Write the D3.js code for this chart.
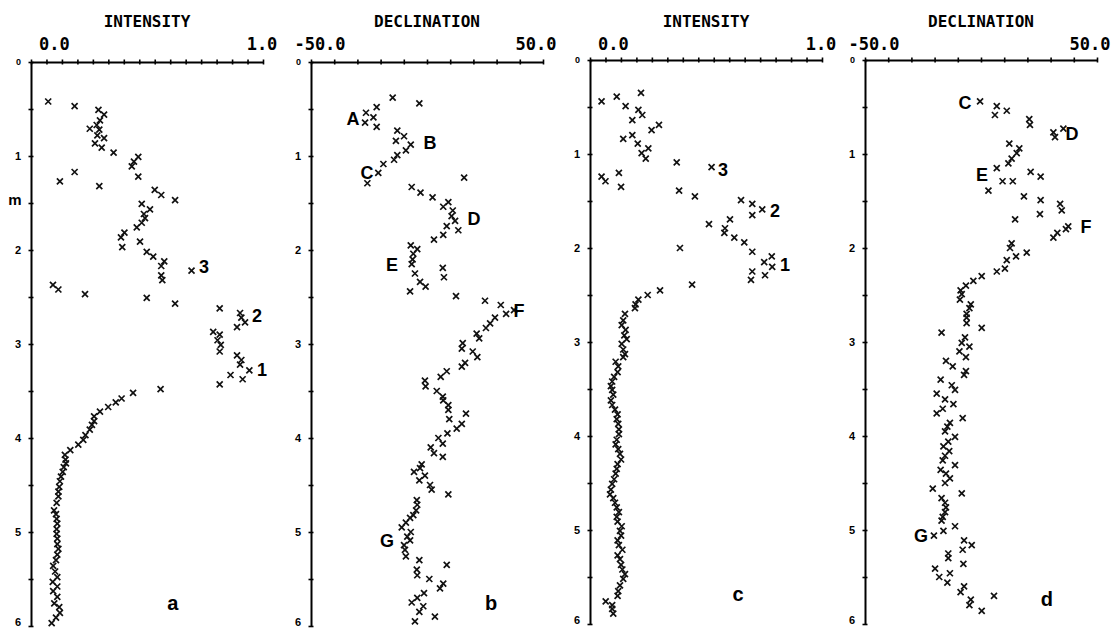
<!DOCTYPE html>
<html><head><meta charset="utf-8">
<script src="https://cdn.jsdelivr.net/npm/d3@7"></script>
<style>body{margin:0;background:#fff}</style>
</head><body>
<svg id="chart" width="1111" height="629"></svg>
<script>
// ---------- DATA ----------
const depthTickValues = [0,0.5,1,1.5,2,2.5,3,3.5,4,4.5,5,5.5,6];
const depthUnit = "m";
const intensityTickLabels = [{v:0,t:"0.0"},{v:1,t:"1.0"}];
const declinationTickLabels = [{v:-50,t:"-50.0"},{v:50,t:"50.0"}];
const intensityTickValues = [-1/14,0,1/14,2/14,3/14,4/14,5/14,6/14,7/14,8/14,9/14,10/14,11/14,12/14,13/14,1];
const declinationTickValues = [-50,-40,-30,-20,-10,0,10,20,30,40,50];

// [depth (m), intensity]
const seriesA = [[0.42,0.008],[0.47,0.13],[0.51,0.24],[0.56,0.266],[0.62,0.247],[0.67,0.232],[0.71,0.20],[0.72,0.244],[0.78,0.235],[0.81,0.266],[0.865,0.224],[0.91,0.255],[0.965,0.31],[1.01,0.424],[1.06,0.404],[1.11,0.394],[1.22,0.424],[1.17,0.13],[1.27,0.062],[1.32,0.244],[1.36,0.50],[1.415,0.53],[1.47,0.594],[1.51,0.44],[1.567,0.478],[1.617,0.45],[1.66,0.455],[1.71,0.44],[1.76,0.417],[1.815,0.36],[1.865,0.344],[1.97,0.35],[1.91,0.432],[2.02,0.463],[2.07,0.493],[2.12,0.544],[2.17,0.53],[2.27,0.53],[2.32,0.535],[2.22,0.67],[2.37,0.03],[2.42,0.055],[2.47,0.178],[2.51,0.463],[2.57,0.594],[2.62,0.80],[2.67,0.894],
[2.72,0.90],[2.77,0.917],[2.82,0.88],[2.87,0.77],[2.90,0.80],[2.96,0.79],[3.01,0.805],[3.08,0.80],[3.12,0.88],[3.17,0.90],[3.22,0.894],[3.28,0.937],[3.33,0.85],[3.375,0.906],[3.43,0.80],[3.48,0.527],[3.52,0.40],[3.58,0.347],[3.62,0.32],[3.67,0.285],[3.72,0.247],[3.77,0.22],[3.82,0.22],[3.86,0.21],[3.91,0.20],[3.97,0.18],[4.02,0.17],[4.07,0.147],[4.13,0.11],[4.18,0.085],[4.23,0.088],[4.27,0.09],[4.31,0.08],[4.36,0.075],[4.41,0.067],[4.46,0.062],[4.52,0.059],[4.57,0.055],[4.62,0.055],[4.69,0.047],[4.77,0.035],[4.81,0.044],[4.86,0.047],[4.91,0.05],[4.97,0.047],[5.02,0.047],[5.07,0.05],[5.13,0.05],[5.18,0.055],[5.24,0.05],[5.30,0.044],[5.36,0.031],[5.42,0.04],[5.48,0.05],[5.53,0.029],[5.58,0.05],[5.63,0.031],[5.69,0.05],[5.76,0.036],[5.80,0.059],[5.86,0.062],[5.91,0.044],[5.97,0.024]];

// [depth (m), declination]
const seriesB = [[0.38,-14.8],[0.44,-3.3],[0.54,-26.3],[0.48,-21.7],[0.59,-23.1],[0.645,-26.7],[0.69,-21.7],[0.73,-12.8],[0.79,-9.9],[0.84,-13.4],[0.88,-7.0],[0.94,-9.1],[0.99,-12.8],[1.04,-14.2],[1.085,-18.8],[1.18,-21.0],[1.29,-25.7],[1.23,16.0],[1.33,-6.6],[1.39,-2.8],[1.44,2.4],[1.49,9.2],[1.54,7.0],[1.58,11.1],[1.64,10.6],[1.69,12.1],[1.745,8.5],[1.79,13.5],[1.84,7.0],[1.89,3.0],[1.95,-7.0],[1.99,-4.2],[2.04,-5.9],[2.10,-6.2],[2.15,-6.6],[2.25,-5.2],[2.19,6.8],[2.29,7.3],[2.34,-3.0],[2.39,-0.6],[2.44,-7.3],[2.49,12.5],[2.54,25.0],[2.585,31.8],[2.64,37.5],[2.68,34.1],[2.72,29.3],
[2.78,27.2],[2.83,25.4],[2.89,21.4],[2.94,22.5],[2.99,15.4],[3.05,15.0],[3.08,19.7],[3.14,21.7],[3.20,16.4],[3.24,15.0],[3.29,8.5],[3.35,5.9],[3.39,-0.9],[3.45,-0.6],[3.50,4.2],[3.56,6.8],[3.60,7.0],[3.65,9.2],[3.70,9.2],[3.74,16.8],[3.80,9.6],[3.85,15.0],[3.90,12.8],[3.95,8.8],[4.00,4.9],[4.06,6.8],[4.10,1.6],[4.16,3.0],[4.20,6.8],[4.28,-2.3],[4.32,-3.0],[4.36,-5.6],[4.40,-0.9],[4.45,-3.3],[4.50,1.3],[4.55,2.0],[4.60,9.2],[4.66,-4.4],[4.71,-4.2],[4.77,-4.7],[4.82,-5.9],[4.85,-7.3],[4.90,-9.1],[4.95,-10.9],[5.00,-7.0],[5.05,-8.5],[5.09,-7.3],[5.14,-9.9],[5.19,-9.5],[5.26,-9.1],[5.30,-3.3],[5.35,8.5],[5.40,-4.4],[5.46,-4.2],[5.50,1.0],[5.55,7.0],[5.60,5.6],[5.65,-1.3],[5.70,-4.2],[5.75,-6.6],[5.79,-1.6],[5.85,-3.3],[5.90,3.4],[5.95,-5.2]];

// [depth (m), intensity]
const seriesC = [[0.44,-0.018],[0.39,0.052],[0.35,0.164],[0.49,0.093],[0.53,0.152],[0.585,0.17],[0.64,0.124],[0.745,0.213],[0.69,0.247],[0.84,0.082],[0.80,0.124],[0.89,0.149],[0.94,0.198],[0.99,0.167],[1.05,0.186],[1.09,0.329],[1.14,0.49],[1.24,-0.018],[1.29,0.0],[1.20,0.062],[1.35,0.072],[1.39,0.34],[1.45,0.413],[1.49,0.626],[1.53,0.678],[1.65,0.678],[1.59,0.724],[1.695,0.575],[1.745,0.478],[1.79,0.552],[1.84,0.549],[1.89,0.595],[1.94,0.641],[2.00,0.344],[2.04,0.678],[2.09,0.768],[2.15,0.733],[2.20,0.77],[2.25,0.678],[2.29,0.737],[2.34,0.672],[2.39,0.40],[2.45,0.252],[2.50,0.195],[2.55,0.152],[2.60,0.139],[2.64,0.136],[2.70,0.09],
[2.77,0.082],[2.82,0.075],[2.87,0.093],[2.93,0.087],[2.97,0.098],[3.02,0.075],[3.08,0.082],[3.13,0.09],[3.16,0.082],[3.21,0.047],[3.26,0.059],[3.32,0.056],[3.37,0.04],[3.42,0.031],[3.47,0.025],[3.51,0.031],[3.56,0.036],[3.62,0.025],[3.67,0.031],[3.72,0.044],[3.77,0.056],[3.82,0.052],[3.87,0.059],[3.93,0.062],[3.98,0.062],[4.04,0.052],[4.09,0.047],[4.14,0.059],[4.19,0.067],[4.25,0.072],[4.30,0.056],[4.35,0.052],[4.40,0.047],[4.46,0.04],[4.51,0.031],[4.57,0.025],[4.62,0.021],[4.66,0.036],[4.71,0.044],[4.76,0.052],[4.81,0.062],[4.86,0.052],[4.91,0.056],[4.96,0.075],[5.01,0.067],[5.06,0.072],[5.11,0.056],[5.16,0.062],[5.21,0.078],[5.27,0.056],[5.31,0.067],[5.37,0.072],[5.42,0.078],[5.47,0.09],[5.52,0.082],[5.59,0.067],[5.65,0.059],[5.70,0.056],[5.76,0.001],[5.80,0.031],[5.84,0.031],[5.89,0.036]];

// [depth (m), declination]
const seriesD = [[0.44,-0.4],[0.49,6.8],[0.585,6.0],[0.54,11.1],[0.63,20.8],[0.69,21.1],[0.73,35.5],[0.77,31.2],[0.82,31.9],[0.89,12.2],[0.94,16.5],[0.99,15.4],[1.05,13.2],[1.10,11.8],[1.15,6.8],[1.19,21.4],[1.24,25.7],[1.29,9.3],[1.29,13.7],[1.39,3.2],[1.45,18.5],[1.49,25.7],[1.64,25.4],[1.53,34.1],[1.60,34.8],[1.695,14.7],[1.77,37.6],[1.80,36.6],[1.84,32.9],[1.89,31.2],[1.95,13.2],[2.00,12.5],[2.05,19.7],[2.09,15.1],[2.13,11.1],[2.22,10.3],[2.25,6.8],[2.30,0.3],[2.35,-3.3],[2.40,-6.5],[2.45,-8.8],[2.49,-8.3],[2.55,-9.1],[2.60,-4.4],[2.64,-5.0],[2.70,-6.2],
[2.74,-6.2],[2.80,-6.2],[2.85,0.3],[2.90,-17.0],[2.95,-6.9],[3.01,-8.3],[3.05,-5.0],[3.10,-9.3],[3.16,-6.5],[3.20,-15.1],[3.26,-12.2],[3.31,-6.5],[3.35,-7.3],[3.40,-17.4],[3.46,-12.6],[3.51,-11.2],[3.55,-19.1],[3.61,-15.5],[3.66,-11.9],[3.71,-16.5],[3.76,-19.1],[3.81,-7.9],[3.86,-13.4],[3.90,-14.5],[3.95,-15.5],[4.01,-11.2],[4.06,-14.1],[4.11,-16.2],[4.16,-13.7],[4.21,-15.5],[4.26,-16.5],[4.31,-11.2],[4.36,-17.4],[4.40,-15.1],[4.45,-13.4],[4.50,-15.5],[4.56,-20.8],[4.61,-8.3],[4.66,-17.0],[4.71,-15.5],[4.76,-15.1],[4.81,-15.5],[4.86,-16.5],[4.90,-17.0],[4.96,-11.2],[5.01,-16.2],[5.06,-20.3],[5.11,-7.3],[5.16,-4.0],[5.21,-7.9],[5.25,-14.1],[5.30,-14.1],[5.36,-7.6],[5.41,-19.8],[5.46,-13.4],[5.50,-18.0],[5.56,-14.5],[5.60,-7.3],[5.66,-8.8],[5.70,5.6],[5.74,-4.4],[5.80,-5.0],[5.86,0.3]];

// annotations [text, value, depth]
const annotA = [["3",0.727,2.18],["2",0.972,2.70],["1",0.995,3.27]];
const annotB = [["A",-31.9,0.596],["B",1.3,0.86],["C",-25.9,1.18],["D",20.3,1.67],["E",-15.1,2.15],["F",39.7,2.64],["G",-17.2,5.09]];
const annotC = [["3",0.543,1.17],["2",0.783,1.60],["1",0.829,2.18]];
const annotD = [["C",-6.9,0.457],["D",39.2,0.78],["E",0.4,1.22],["F",45.3,1.77],["G",-25.9,5.06]];
const panelLetters = [["a",0.584,5.77],["b",27.6,5.77],["c",0.612,5.69],["d",28.4,5.74]];

// ---------- LAYOUT ----------
const svg = d3.select("#chart");
const panels = [
  {kind:"int", title:"INTENSITY", L:31, R:263, top:62, data:seriesA, annot:annotA, letter:panelLetters[0]},
  {kind:"dec", title:"DECLINATION", L:311, R:543, top:62, data:seriesB, annot:annotB, letter:panelLetters[1]},
  {kind:"int", title:"INTENSITY", L:590, R:822, top:60, data:seriesC, annot:annotC, letter:panelLetters[2]},
  {kind:"dec", title:"DECLINATION", L:865, R:1097, top:60, data:seriesD, annot:annotD, letter:panelLetters[3]}
];
const pxPerM = 94;
const monoFont = "'DejaVu Sans Mono', monospace";
const sansFont = "'Liberation Sans', Arial, sans-serif";
const xMark = {draw(ctx, size){const r=Math.sqrt(size)/2; ctx.moveTo(-r,-r); ctx.lineTo(r,r); ctx.moveTo(-r,r); ctx.lineTo(r,-r);}};
const markPath = d3.symbol().type(xMark).size(36)();

panels.forEach((p, i) => {
  const g = svg.append("g");
  const x = d3.scaleLinear()
    .domain(p.kind === "int" ? [-1/14, 1] : [-50, 50])
    .range([p.L, p.R]);
  const y = d3.scaleLinear().domain([0, 6]).range([p.top, p.top + 6*pxPerM]);

  // top axis
  const xa = g.append("g").attr("transform", `translate(0,${p.top})`)
    .call(d3.axisTop(x)
      .tickValues(p.kind === "int" ? intensityTickValues : declinationTickValues)
      .tickSizeInner(3).tickSizeOuter(0).tickFormat(""));
  xa.select(".domain").attr("stroke","#000").attr("stroke-width",2);
  xa.selectAll(".tick line").attr("y1",-2.5).attr("y2",2.5).attr("stroke-width",1.6);

  // left axis
  const ya = g.append("g").attr("transform", `translate(${p.L},0)`)
    .call(d3.axisLeft(y).tickValues(depthTickValues)
      .tickSizeInner(3).tickSizeOuter(0).tickPadding(6)
      .tickFormat(d => Number.isInteger(d) ? String(d) : ""));
  ya.select(".domain").attr("stroke","#000").attr("stroke-width",2);
  ya.selectAll(".tick line").attr("x1",-2.5).attr("x2",2.5).attr("stroke-width",1.6);
  ya.selectAll(".tick text").attr("font-family", sansFont).attr("font-weight","bold")
    .attr("font-size", d => d === 0 ? 9 : 11).attr("fill","#000").attr("x",-10)
    .attr("dy", d => d === 6 ? "-0.05em" : "0.3em");

  if (i === 0) {
    g.append("text").attr("x", p.L - 16).attr("y", y(1.5)).attr("dy","0.1em")
      .attr("text-anchor","middle").attr("font-family",sansFont).attr("font-weight","bold")
      .attr("font-size",15).text(depthUnit);
  }

  // title
  g.append("text").attr("x",(p.L+p.R)/2).attr("y",27).attr("text-anchor","middle")
    .attr("font-family",monoFont).attr("font-weight","bold").attr("font-size",16)
    .text(p.title);

  // end labels
  const labs = p.kind === "int" ? intensityTickLabels : declinationTickLabels;
  const offs = p.kind === "int" ? [8, -1] : [9, -7];
  labs.forEach((l, k) => {
    g.append("text").attr("x", x(l.v) + offs[k]).attr("y", 50).attr("text-anchor","middle")
      .attr("font-family",monoFont).attr("font-weight","bold").attr("font-size",17)
      .text(l.t);
  });

  // marks
  g.append("g").selectAll("path").data(p.data).join("path")
    .attr("d", markPath)
    .attr("transform", d => `translate(${x(d[1])},${y(d[0])})`)
    .attr("fill","none").attr("stroke","#111").attr("stroke-width",1.7);

  // annotations
  g.append("g").selectAll("text").data(p.annot).join("text")
    .attr("x", d => x(d[1])).attr("y", d => y(d[2]))
    .attr("dy","0.36em").attr("text-anchor","middle")
    .attr("font-family",sansFont).attr("font-weight","bold").attr("font-size",18)
    .text(d => d[0]);

  g.append("text").attr("x", x(p.letter[1])).attr("y", y(p.letter[2]))
    .attr("dy","0.3em").attr("text-anchor","middle")
    .attr("font-family",sansFont).attr("font-weight","bold").attr("font-size",20)
    .text(p.letter[0]);
});
</script>
</body></html>
